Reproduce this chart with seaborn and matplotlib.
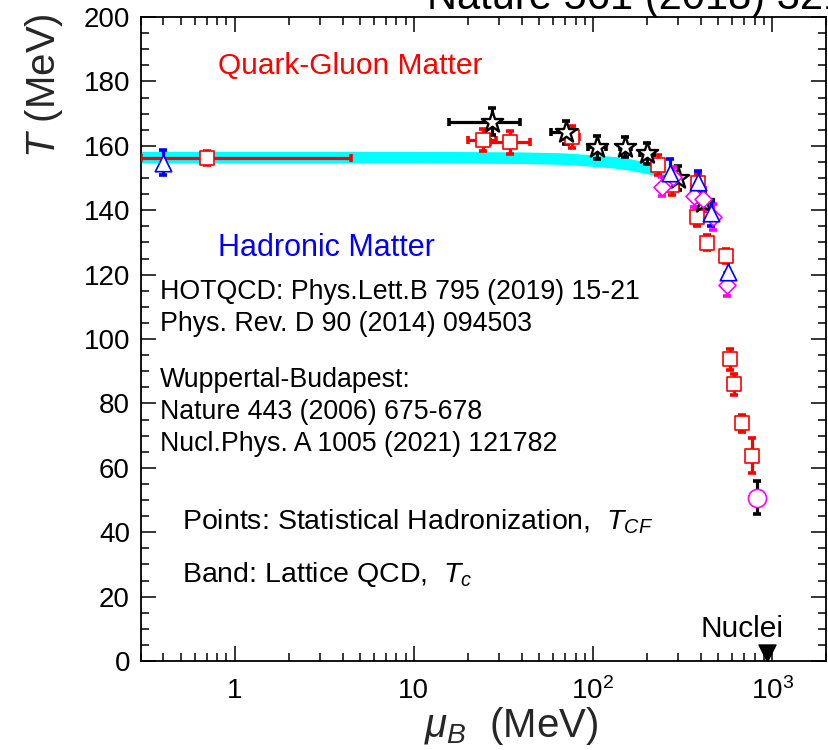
import numpy as np
import pandas as pd
import matplotlib
matplotlib.use("Agg")
import matplotlib.pyplot as plt
import seaborn as sns
from matplotlib.ticker import FixedLocator, MultipleLocator, NullFormatter

# ---------------- data ----------------
band_mu = [0.3, 10, 40, 70, 100, 130, 160, 190, 220, 250]
band_T = [156.5, 156.5, 156.3, 156.0, 155.4, 154.9, 154.2, 153.4, 152.6, 151.6]
band_halfwidth = 1.8

# red open squares
sq_mu = [0.7, 24.2, 34.4, 76, 232, 275, 387, 383, 432, 553, 582, 615, 677, 771]
sq_T = [156.2, 161.8, 161.1, 162.8, 154.0, 147.8, 148.3, 138.0, 129.9, 125.8, 93.7, 85.9, 73.8, 63.8]
sq_Terr = [2.2, 3.5, 3.6, 3.4, 3.0, 3.0, 3.0, 2.9, 2.4, 2.2, 3.3, 3.3, 2.6, 5.4]
sq_mu_lo = [0.4, 4.1, 7.8, 8, 0, 0, 0, 0, 0, 0, 0, 0, 0, 0]
sq_mu_hi = [3.75, 4.5, 9.9, 8, 0, 0, 0, 0, 0, 0, 0, 0, 0, 0]

# black open stars
st_mu = [27.2, 70.7, 105.7, 151.5, 199.7, 300, 410]
st_T = [167.5, 164.2, 159.5, 159.7, 157.7, 149.9, 142.6]
st_Terr = [4.2, 3.5, 3.6, 3.1, 3.2, 3.7, 3.0]
st_mu_lo = [11.5, 12.7, 11.5, 10.5, 17, 0, 0]
st_mu_hi = [11.8, 10.3, 13.3, 11.5, 19, 0, 0]

# blue open triangles
tr_mu = [0.40, 269, 387, 458, 570]
tr_T = [154.7, 151.5, 148.8, 139.0, 120.9]
tr_Terr = [3.9, 4.3, 3.5, 4.0, 4.1]

# magenta open diamonds
dm_mu = [242, 281, 367, 410, 466, 563]
dm_T = [147.3, 150.4, 144.4, 143.4, 138.0, 116.8]
dm_Terr = [3.0, 3.0, 3.5, 3.5, 4.0, 3.6]

# magenta open circle (black error bar)
ci_mu = [828]
ci_T = [50.7]
ci_Terr = [5.1]

# nuclei marker
nuc_mu = [938]
nuc_T = [2.5]

x_ticks = [1, 10, 100, 1000]
x_ticklabels = ["1", "10", "$10^2$", "$10^3$"]
y_ticks = list(range(0, 201, 20))

# ---------------- style ----------------
sns.set_theme(style="ticks")
plt.rcParams["font.family"] = ["Liberation Sans", "DejaVu Sans"]
plt.rcParams["mathtext.fontset"] = "custom"
plt.rcParams["mathtext.rm"] = "Liberation Sans"
plt.rcParams["mathtext.it"] = "Liberation Sans:italic"
plt.rcParams["mathtext.bf"] = "Liberation Sans:bold"

W, H = 829, 750
fig = plt.figure(figsize=(W / 100, H / 100), dpi=100)
ax = fig.add_axes([141 / W, 1 - 661 / H, (826 - 141) / W, (661 - 17) / H])

# band
bT = np.array(band_T)
ax.fill_between(band_mu, bT - band_halfwidth, bT + band_halfwidth,
                color="#00FFFF", linewidth=0, zorder=1)

eb = dict(fmt="none", elinewidth=2.3, capsize=3, capthick=2.6, zorder=3)


def draw(mu, T, Terr, ecol, mcol, marker, s, mu_lo=None, mu_hi=None, lw=1.2):
    mu = np.array(mu, float)
    T = np.array(T, float)
    ax.errorbar(mu, T, yerr=Terr, ecolor=ecol, **eb)
    if mu_lo is not None:
        lo = np.array(mu_lo, float)
        hi = np.array(mu_hi, float)
        m = (lo > 0) | (hi > 0)
        ax.errorbar(mu[m], T[m], xerr=[lo[m], hi[m]], ecolor=ecol, **eb)
    df = pd.DataFrame({"mu": mu, "T": T})
    sns.scatterplot(data=df, x="mu", y="T", marker=marker, s=s, color=mcol,
                    facecolor="white", edgecolor=mcol, linewidth=lw,
                    ax=ax, zorder=4, legend=False)


draw(sq_mu, sq_T, sq_Terr, "red", "red", "s", 95, sq_mu_lo, sq_mu_hi)
draw(st_mu, st_T, st_Terr, "black", "black", "*", 260, st_mu_lo, st_mu_hi, lw=1.7)
draw(dm_mu, dm_T, dm_Terr, "magenta", "magenta", "D", 75)
draw(tr_mu, tr_T, tr_Terr, "blue", "blue", "^", 140)
draw(ci_mu, ci_T, ci_Terr, "black", "magenta", "o", 170)

sns.scatterplot(x=nuc_mu, y=nuc_T, marker="v", s=150, color="black",
                edgecolor="black", ax=ax, zorder=5, legend=False)

# axes
ax.set_xscale("log")
ax.set_xlim(0.3, 2000)
ax.set_ylim(0, 200)
ax.xaxis.set_major_locator(FixedLocator(x_ticks))
ax.set_xticklabels(x_ticklabels)
minors = [m * 10.0 ** e for e in range(-1, 4) for m in range(2, 10)]
ax.xaxis.set_minor_locator(FixedLocator(minors))
ax.xaxis.set_minor_formatter(NullFormatter())
ax.yaxis.set_major_locator(FixedLocator(y_ticks))
ax.yaxis.set_minor_locator(MultipleLocator(5))

ax.tick_params(which="both", direction="in", top=True, right=True,
               labelsize=20, width=1.1, color="black", labelcolor="black")
ax.tick_params(which="major", length=11)
ax.tick_params(which="minor", length=6)
ax.tick_params(axis="y", which="major", pad=8)
ax.tick_params(axis="x", which="major", pad=12)
for sp in ax.spines.values():
    sp.set_linewidth(1.3)
    sp.set_color("black")

ax.set_xlabel(r"$\mu_B$  (MeV)", fontsize=29)
ax.xaxis.set_label_coords(0.541, -0.069)
ax.set_ylabel(r"$T$ (MeV)", fontsize=29, loc="top")
ax.yaxis.set_label_coords(-0.111, 1.006)


def ftext(px, py, s, **kw):
    fig.text(px / W, 1 - py / H, s, va="baseline", **kw)


ftext(218, 74, "Quark-Gluon Matter", color="red", fontsize=21.5)
ftext(218, 256, "Hadronic Matter", color="blue", fontsize=22)
ftext(160, 299, "HOTQCD: Phys.Lett.B 795 (2019) 15-21", color="black", fontsize=19.3)
ftext(160, 331, "Phys. Rev. D 90 (2014) 094503", color="black", fontsize=19.3)
ftext(160, 387, "Wuppertal-Budapest:", color="black", fontsize=19.3)
ftext(160, 419, "Nature 443 (2006) 675-678", color="black", fontsize=19.3)
ftext(160, 451, "Nucl.Phys. A 1005 (2021) 121782", color="black", fontsize=19.3)
ftext(182, 530, r"Points: Statistical Hadronization,  $T_{CF}$", color="black", fontsize=20.5)
ftext(182, 582, r"Band: Lattice QCD,  $T_c$", color="black", fontsize=20.5)
ftext(742, 637, "Nuclei", color="black", fontsize=21.5, ha="center")
ftext(427, 9, "Nature 561 (2018) 321", color="black", fontsize=30)

fig.savefig("out.png", dpi=100)
